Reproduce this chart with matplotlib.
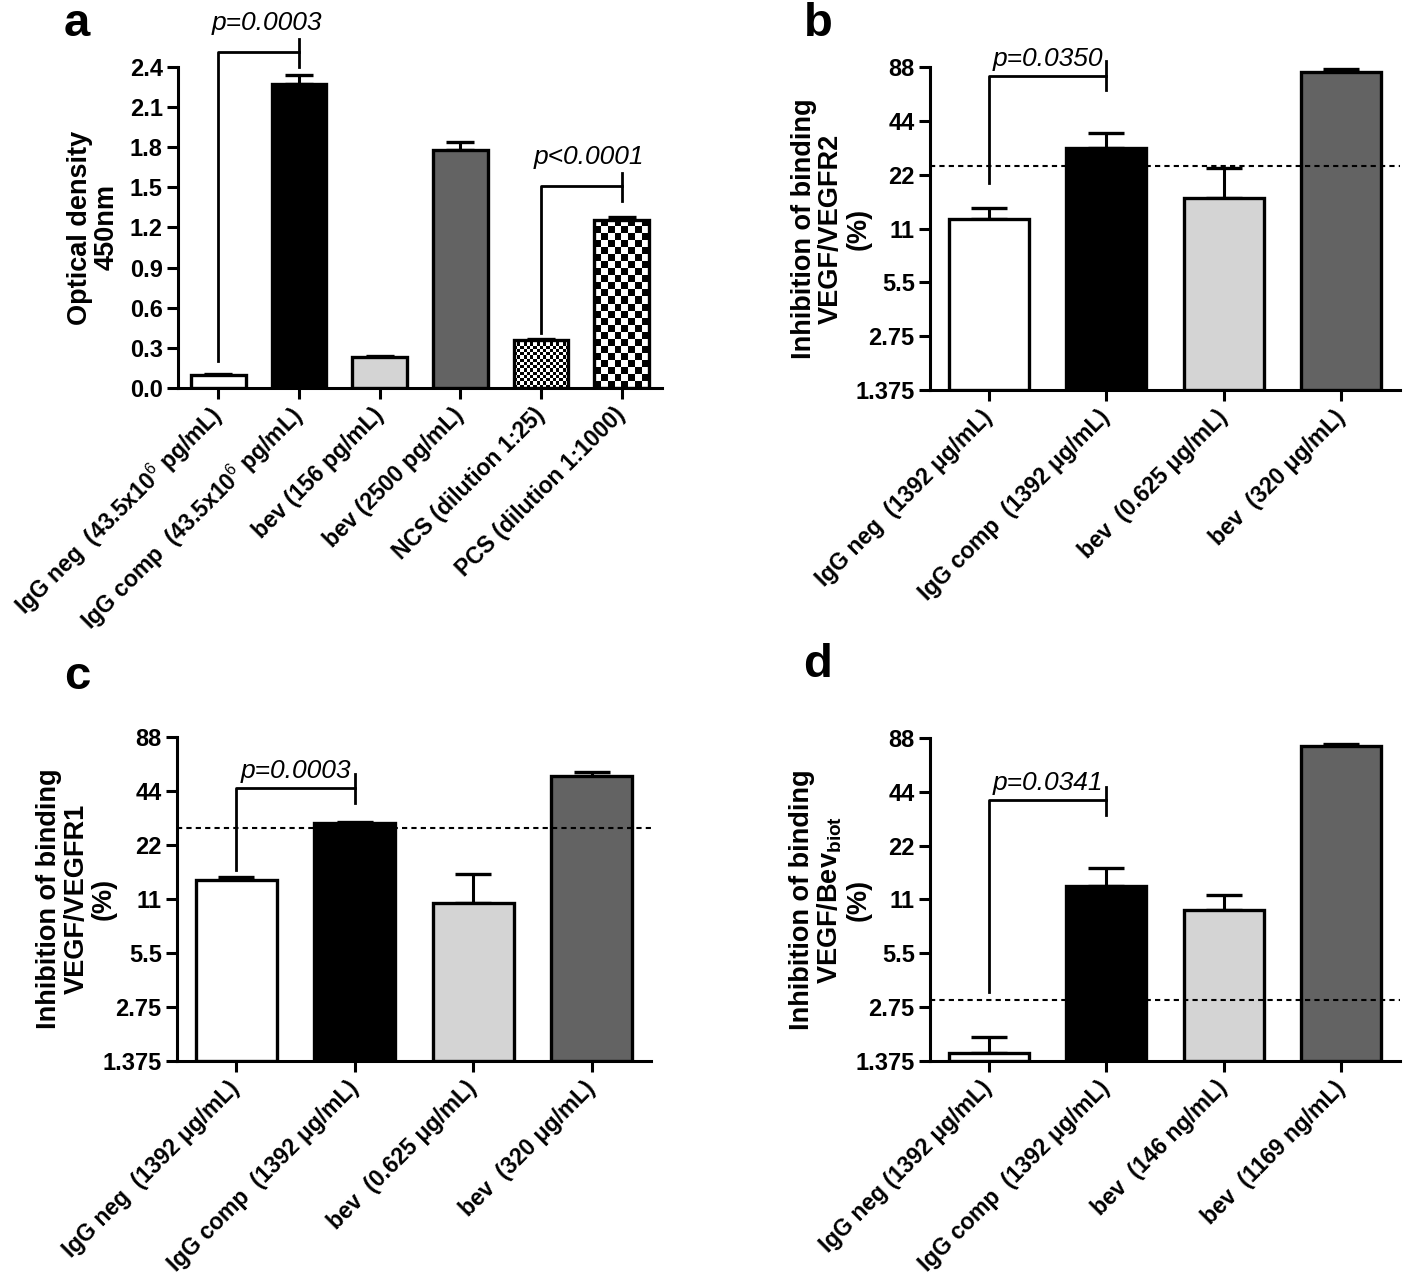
import numpy as np
import matplotlib.pyplot as plt
from matplotlib import font_manager

plt.rcParams['font.family'] = ['Liberation Sans', 'DejaVu Sans']
plt.rcParams['mathtext.fontset'] = 'custom'
plt.rcParams['mathtext.rm'] = 'Liberation Sans'
plt.rcParams['mathtext.bf'] = 'Liberation Sans:bold'
plt.rcParams['mathtext.it'] = 'Liberation Sans:italic'

installed = {f.name for f in font_manager.fontManager.ttflist}
NARROW = 'Liberation Sans Narrow' if 'Liberation Sans Narrow' in installed else 'Liberation Sans'

# ---- panel a: ELISA optical density
a_labels = ['IgG neg  (43.5x10$^{6}$ pg/mL)', 'IgG comp  (43.5x10$^{6}$ pg/mL)',
            'bev (156 pg/mL)', 'bev (2500 pg/mL)', 'NCS (dilution 1:25)',
            'PCS (dilution 1:1000)']
a_values = [0.10, 2.275, 0.231, 1.779, 0.36, 1.258]
a_errors = [0.006, 0.065, 0.009, 0.057, 0.007, 0.02]
a_fills = ['white', 'black', '#d4d4d4', '#636363', 'fine', 'coarse']
a_yticks = [0.0, 0.3, 0.6, 0.9, 1.2, 1.5, 1.8, 2.1, 2.4]
# (bar1, bar2, left leg bottom, bracket top, right tick low, right tick high, text, text y)
a_sig = [(0, 1, 0.20, 2.51, 2.40, 2.61, 'p=0.0003', 2.73),
         (4, 5, 0.41, 1.51, 1.40, 1.61, 'p<0.0001', 1.73)]

# ---- panels b, c, d: inhibition of binding (%)
log_ticks = [1.375, 2.75, 5.5, 11, 22, 44, 88]
log_ticklabels = ['1.375', '2.75', '5.5', '11', '22', '44', '88']
four_fills = ['white', 'black', '#d4d4d4', '#636363']

b_labels = ['IgG neg  (1392 \u03bcg/mL)', 'IgG comp  (1392 \u03bcg/mL)',
            'bev  (0.625 \u03bcg/mL)', 'bev  (320 \u03bcg/mL)']
b_values = [12.4, 31.1, 16.3, 82.6]
b_errors = [1.9, 6.4, 7.6, 3.0]
b_cutoff = 24.5
b_sig = [(0, 1, 19.8, 78.5, 65.5, 94.5, 'p=0.0350', 98)]

c_labels = ['IgG neg  (1392 \u03bcg/mL)', 'IgG comp  (1392 \u03bcg/mL)',
            'bev  (0.625 \u03bcg/mL)', 'bev  (320 \u03bcg/mL)']
c_values = [14.1, 29.0, 10.4, 53.5]
c_errors = [0.4, 0.4, 4.8, 2.7]
c_cutoff = 27.3
c_sig = [(0, 1, 15.9, 45.9, 37.9, 55.0, 'p=0.0003', 57)]

d_labels = ['IgG neg (1392 \u03bcg/mL)', 'IgG comp  (1392 \u03bcg/mL)',
            'bev  (146 ng/mL)', 'bev  (1169 ng/mL)']
d_values = [1.52, 13.05, 9.65, 79.8]
d_errors = [0.36, 3.45, 1.95, 1.2]
d_cutoff = 3.01
d_sig = [(0, 1, 3.33, 39.4, 32.7, 47.1, 'p=0.0341', 49.5)]


def checker(ax, bar, sq_px, base):
    x0, w, h = bar.get_x(), bar.get_width(), bar.get_height()
    p0 = ax.transData.transform((x0, base))
    p1 = ax.transData.transform((x0 + w, base + h))
    nx = max(1, int(round((p1[0] - p0[0]) / sq_px)))
    ny = max(1, int(round((p1[1] - p0[1]) / sq_px)))
    grid = np.indices((ny, nx)).sum(axis=0) % 2
    im = ax.imshow(grid, extent=(x0, x0 + w, base, base + h), cmap='gray',
                   aspect='auto', interpolation='nearest', origin='lower', zorder=2)
    im.set_clip_path(bar)


def draw_panel(ax, labels, values, errors, fills, log, ylabel, label_x, capsize):
    n = len(values)
    x = np.arange(n)
    if log:
        base = log_ticks[0]
        ax.set_yscale('log', base=2)
        ax.set_ylim(log_ticks[0], log_ticks[-1])
    else:
        base = 0.0
        ax.set_ylim(a_yticks[0], a_yticks[-1])
    ax.set_xlim(-0.5, n - 0.5)

    faces = [f if f not in ('fine', 'coarse') else 'none' for f in fills]
    heights = [v - base for v in values]
    ax.errorbar(x, values, yerr=[np.zeros(n), errors], fmt='none', ecolor='black',
                elinewidth=2.2, capsize=capsize, capthick=2.4, zorder=1)
    bars = ax.bar(x, heights, bottom=base, width=0.68, color=faces,
                  edgecolor='black', linewidth=2.4, zorder=3)
    for b, f in zip(bars, fills):
        if f == 'fine':
            checker(ax, b, 3.2, base)
        elif f == 'coarse':
            checker(ax, b, 7.0, base)
    ax.set_xlim(-0.5, n - 0.5)
    if log:
        ax.set_ylim(log_ticks[0], log_ticks[-1])
        ax.set_yticks(log_ticks)
        ax.set_yticklabels(log_ticklabels)
        ax.minorticks_off()
    else:
        ax.set_ylim(a_yticks[0], a_yticks[-1])
        ax.set_yticks(a_yticks)
        ax.set_yticklabels([f'{t:.1f}' for t in a_yticks])

    ax.set_xticks(x)
    ax.set_xticklabels(labels, rotation=45, ha='right', va='center',
                       rotation_mode='anchor', fontsize=16.5, fontweight='bold')
    for t in ax.get_yticklabels():
        t.set_family([NARROW, 'Liberation Sans'])
        t.set_fontweight('bold')
        t.set_fontsize(17)
    ax.tick_params(axis='both', direction='out', length=8, width=2.2, pad=3)
    ax.tick_params(axis='x', pad=9)
    for s in ['top', 'right']:
        ax.spines[s].set_visible(False)
    for s in ['left', 'bottom']:
        ax.spines[s].set_linewidth(2.2)
    ax.set_ylabel(ylabel, fontsize=19.5, fontweight='bold', linespacing=1.05)
    ax.yaxis.set_label_coords(label_x, 0.5)


def brackets(ax, sigs, frac):
    for i, j, lo, top, tlo, thi, txt, ty in sigs:
        ax.plot([i, i, j], [lo, top, top], color='black', lw=2, clip_on=False, zorder=4)
        ax.plot([j, j], [tlo, thi], color='black', lw=2, clip_on=False, zorder=4)
        ax.text(i + frac * (j - i), ty, txt, ha='center', va='center', style='italic',
                fontsize=19, clip_on=False)


fig = plt.figure(figsize=(14.18, 12.84), dpi=100)
W, H = 1418, 1284


def axes_px(left, right, top, bottom):
    return fig.add_axes([left / W, 1 - bottom / H, (right - left) / W, (bottom - top) / H])


ax_a = axes_px(178, 662, 67, 388)
ax_b = axes_px(930, 1400, 67, 390)
ax_c = axes_px(177, 651, 737, 1061)
ax_d = axes_px(930, 1400, 738, 1061)

draw_panel(ax_a, a_labels, a_values, a_errors, a_fills, False,
           'Optical density\n450nm', -0.12, 10)
brackets(ax_a, a_sig, 0.6)

draw_panel(ax_b, b_labels, b_values, b_errors, four_fills, True,
           'Inhibition of binding\nVEGF/VEGFR2\n(%)', -0.125, 13)
ax_b.axhline(b_cutoff, color='black', lw=1.5, ls=(0, (2.5, 2)), zorder=5)
brackets(ax_b, b_sig, 0.5)

draw_panel(ax_c, c_labels, c_values, c_errors, four_fills, True,
           'Inhibition of binding\nVEGF/VEGFR1\n(%)', -0.128, 13)
ax_c.axhline(c_cutoff, color='black', lw=1.5, ls=(0, (2.5, 2)), zorder=5)
brackets(ax_c, c_sig, 0.5)

draw_panel(ax_d, d_labels, d_values, d_errors, four_fills, True,
           'Inhibition of binding\nVEGF/Bev$_{\\mathbf{biot}}$\n(%)', -0.125, 13)
ax_d.axhline(d_cutoff, color='black', lw=1.5, ls=(0, (2.5, 2)), zorder=5)
brackets(ax_d, d_sig, 0.5)

for letter, (px, py) in zip('abcd', [(77, 24), (818, 24), (77, 677), (818, 665)]):
    fig.text(px / W, 1 - py / H, letter, fontsize=34, fontweight='bold',
             ha='center', va='center')

fig.savefig('out.png', dpi=100)
